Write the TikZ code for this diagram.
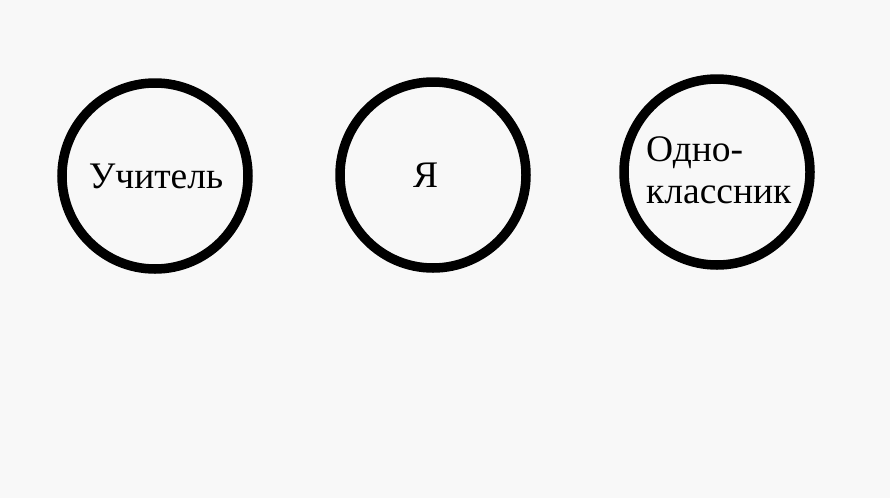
\documentclass[tikz,border=0pt]{standalone}
\usepackage{fontspec}
\setmainfont{Liberation Serif}
\definecolor{bg}{HTML}{F8F8F8}
\begin{document}
\begin{tikzpicture}[x=1pt,y=-1pt,
  ring/.style={draw=black,line width=9.5pt,circle,minimum size=186pt,inner sep=0pt},
  lbl/.style={font=\fontsize{37.5}{45}\selectfont,inner sep=0pt,anchor=base}]
\fill[bg] (0,0) rectangle (890,498);
\useasboundingbox (0,0) rectangle (890,498);
\node[ring] (teacher) at (155,176) {};
\node[ring] (me) at (433,175) {};
\node[ring] (classmate) at (717,172) {};
\node[lbl] (tlabel) at (156,188) {Учитель};
\node[lbl] (mlabel) at (425.5,187) {Я};
\node[lbl,anchor=base west] (c1) at (646,161) {Одно-};
\node[lbl,anchor=base west] (c2) at (646,203) {классник};
\end{tikzpicture}
\end{document}
